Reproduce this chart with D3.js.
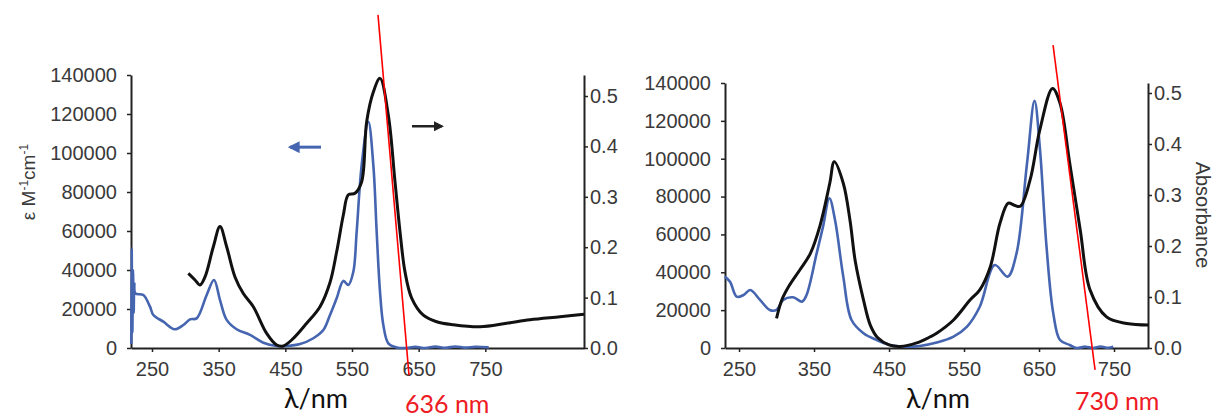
<!DOCTYPE html>
<html><head><meta charset="utf-8">
<script src="https://cdn.jsdelivr.net/npm/d3@7"></script>
<style>
html,body{margin:0;padding:0;background:#fff;}
svg{display:block;}
.tick text{font-family:"Liberation Sans",Arial,sans-serif;font-size:20px;fill:#3a3a3a;}
</style></head>
<body>
<svg id="c" width="1213" height="419"></svg>
<script>
// ---------- data ----------
const xTicks = [250, 350, 450, 550, 650, 750];
const epsTicks = [0, 20000, 40000, 60000, 80000, 100000, 120000, 140000];
const absTicks = [0.0, 0.1, 0.2, 0.3, 0.4, 0.5];

// Left panel: blue = epsilon (left axis), black = absorbance (right axis)
const leftBlueWl  = [219,219.5,220.5,221.5,222.5,223.5,225,237,247,252,267,284,297,307,317,332,343,352,362,377,397,417,437,452,472,492,507,517,527,537,544.5,552,557,564.5,574.5,582,587,592,597,604.5,617,630,645,660,675,690,705,720,735,755];
const leftBlueEps = [2000,51000,8000,40000,18000,33000,28000,27200,21200,16900,13500,9600,11800,14700,15200,27200,34900,24600,14400,9600,6700,2700,1000,1000,2000,5000,9200,16900,25500,34400,32300,39100,59600,93800,116000,93800,59600,28900,11800,2400,300,0,600,0,700,100,800,200,600,300];
const leftBlackWl  = [304.5,314.5,322,329.5,342,352,362,374.5,387,402,422,437,447,462,482,502,517,527,537,544.5,554.5,564.5,572,582,592,604.5,614.5,622,629.5,639.5,657,677,702,742,782,817,862,898];
const leftBlackAbs = [0.148,0.135,0.125,0.141,0.201,0.241,0.201,0.141,0.108,0.082,0.029,0.006,0.004,0.019,0.049,0.082,0.13,0.191,0.264,0.304,0.307,0.33,0.449,0.508,0.535,0.462,0.33,0.231,0.151,0.099,0.065,0.052,0.046,0.042,0.049,0.056,0.062,0.067];

// Right panel
const rightBlueWl  = [231,238,247,256,265,278,291,300,309,322,334,340,353.5,362,370.5,378,389,400,416,433.5,451,469,491,515,536,554,571,591,608,620,634,644,651,660,669,678,691,700,712,722,732,742,749];
const rightBlueEps = [37700,35000,27100,28000,30600,25400,20100,20100,25400,26800,24500,28000,50000,64100,79100,67600,37700,14800,7800,4200,1600,700,1100,3000,6000,11300,21800,43800,37700,50000,97600,130600,106300,53500,18300,4200,1600,0,700,0,800,100,600];
const rightBlackWl  = [300,307,316,331,345,358,371,377,389,398,405,416,425,435,450,465,487,505,513.5,536,558,571,585,598,609,617,625,638,651,668,678,691,705,718,740,767,796];
const rightBlackAbs = [0.058,0.094,0.120,0.153,0.185,0.240,0.323,0.365,0.323,0.25,0.17,0.094,0.045,0.02,0.006,0.003,0.01,0.022,0.029,0.055,0.094,0.114,0.159,0.245,0.284,0.28,0.278,0.329,0.427,0.509,0.48,0.362,0.231,0.114,0.061,0.048,0.045];

// annotations (red onset lines, in data units of wavelength / absorbance)
const leftOnsetWl = [589, 635.5], leftOnsetAbs = [0.661, -0.054];
const rightOnsetWl = [668.7, 724.7], rightOnsetAbs = [0.594, -0.043];
const onsetLabels = ["636 nm", "730 nm"];
// direction arrows on the left panel
const blueArrowWl = [503.5, 457], blueArrowEps = [103000, 103000];
const blackArrowWl = [640, 685], blackArrowAbs = [0.44, 0.44];

// ---------- drawing ----------
const svg = d3.select("#c");
const BLUE = "#4565b0", BLACK = "#111", RED = "#ee1c25";
const defs = svg.append("defs");
function marker(id, color){
  defs.append("marker").attr("id", id).attr("viewBox","0 0 10 10").attr("refX",8).attr("refY",5)
    .attr("markerWidth",4).attr("markerHeight",4).attr("orient","auto")
    .append("path").attr("d","M0,0 L10,5 L0,10 z").attr("fill", color);
}
marker("ab", BLUE); marker("ak", "#222");

function panel(cfg){
  const x = d3.scaleLinear().domain(cfg.xDom).range([cfg.x0, cfg.x1]);
  const yL = d3.scaleLinear().domain([0,140000]).range([cfg.yB, cfg.yT]);
  const yR = d3.scaleLinear().domain([0, cfg.absMax]).range([cfg.yB, cfg.yT]);
  const g = svg.append("g");

  const ax = (sel)=>{ sel.selectAll(".domain").attr("stroke","#222").attr("stroke-width",2);
                      sel.selectAll(".tick line").attr("stroke","#222").attr("stroke-width",1.5); };
  g.append("g").attr("transform",`translate(0,${cfg.yB})`)
    .call(d3.axisBottom(x).tickValues(xTicks).tickSize(4).tickSizeOuter(0).tickPadding(10).tickFormat(d3.format("d")))
    .call(ax);
  g.append("g").attr("transform",`translate(${cfg.x0},0)`)
    .call(d3.axisLeft(yL).tickValues(epsTicks).tickSize(4).tickSizeOuter(0).tickPadding(10).tickFormat(d3.format("d")))
    .call(ax);
  g.append("g").attr("transform",`translate(${cfg.x1},0)`)
    .call(d3.axisRight(yR).tickValues(absTicks).tickSize(4).tickSizeOuter(0).tickPadding(2).tickFormat(d3.format(".1f")))
    .call(ax);

  const curve = d3.curveCatmullRom.alpha(0.5);
  g.append("path").datum(d3.zip(cfg.bWl, cfg.bEps))
    .attr("d", d3.line().x(d=>x(d[0])).y(d=>yL(d[1])).curve(curve))
    .attr("fill","none").attr("stroke",BLUE).attr("stroke-width",2.6).attr("stroke-linejoin","round");
  g.append("path").datum(d3.zip(cfg.kWl, cfg.kAbs))
    .attr("d", d3.line().x(d=>x(d[0])).y(d=>yR(d[1])).curve(curve))
    .attr("fill","none").attr("stroke",BLACK).attr("stroke-width",3).attr("stroke-linejoin","round");

  g.append("line").attr("x1",x(cfg.oWl[0])).attr("y1",yR(cfg.oAbs[0]))
    .attr("x2",x(cfg.oWl[1])).attr("y2",yR(cfg.oAbs[1])).attr("stroke","#ff0000").attr("stroke-width",1.6);

  g.append("text").attr("x",cfg.lamX).attr("y",408).attr("font-family","Lato, 'Open Sans', sans-serif")
    .attr("font-size",27).attr("fill","#111").text("λ/nm");
  g.append("text").attr("x",cfg.redX).attr("y",cfg.redY).attr("font-family","Lato, 'Open Sans', sans-serif")
    .attr("font-size",25).attr("fill",RED).text(cfg.redLabel);
  return {x,yL,yR,g};
}

const L = panel({xDom:[218.5,898], x0:131, x1:584, yB:348, yT:75, absMax:0.5417,
  bWl:leftBlueWl, bEps:leftBlueEps, kWl:leftBlackWl, kAbs:leftBlackAbs,
  oWl:leftOnsetWl, oAbs:leftOnsetAbs, lamX:284, redX:405, redY:413, redLabel:onsetLabels[0]});
const R = panel({xDom:[231.3,795.3], x0:725, x1:1148, yB:348, yT:83, absMax:0.5196,
  bWl:rightBlueWl, bEps:rightBlueEps, kWl:rightBlackWl, kAbs:rightBlackAbs,
  oWl:rightOnsetWl, oAbs:rightOnsetAbs, lamX:906, redX:1075, redY:410, redLabel:onsetLabels[1]});

// arrows
L.g.append("line").attr("x1",L.x(blueArrowWl[0])).attr("y1",L.yL(blueArrowEps[0]))
  .attr("x2",L.x(blueArrowWl[1])).attr("y2",L.yL(blueArrowEps[1]))
  .attr("stroke",BLUE).attr("stroke-width",3).attr("marker-end","url(#ab)");
L.g.append("line").attr("x1",L.x(blackArrowWl[0])).attr("y1",L.yR(blackArrowAbs[0]))
  .attr("x2",L.x(blackArrowWl[1])).attr("y2",L.yR(blackArrowAbs[1]))
  .attr("stroke","#222").attr("stroke-width",2.5).attr("marker-end","url(#ak)");

// axis titles
const yt = svg.append("text").attr("transform","translate(35,182) rotate(-90)").attr("text-anchor","middle")
  .attr("font-family","'Liberation Sans',Arial,sans-serif").attr("font-size",19).attr("fill","#3a3a3a");
yt.append("tspan").text("ε M");
yt.append("tspan").attr("font-size",12).attr("dy",-7).text("-1");
yt.append("tspan").attr("dy",7).text("cm");
yt.append("tspan").attr("font-size",12).attr("dy",-7).text("-1");
svg.append("text").attr("transform","translate(1196,215) rotate(90)").attr("text-anchor","middle")
  .attr("font-family","'Liberation Sans',Arial,sans-serif").attr("font-size",20).attr("fill","#3a3a3a").text("Absorbance");
</script>
</body></html>
